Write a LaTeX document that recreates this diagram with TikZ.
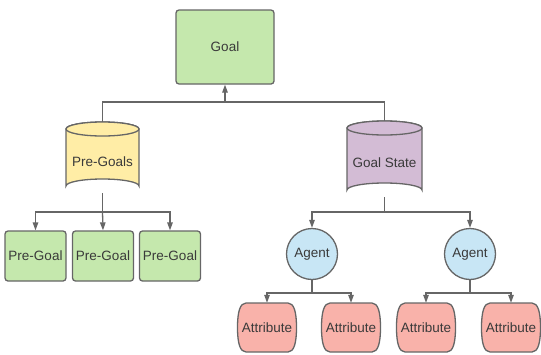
\documentclass[tikz,border=0pt]{standalone}
\usepackage{fontspec}
\setmainfont{Liberation Sans}
\usetikzlibrary{arrows.meta}
\definecolor{edge}{HTML}{666666}
\definecolor{txt}{HTML}{3A3A3A}
\definecolor{gfill}{HTML}{C5E8AD}
\definecolor{yfill}{HTML}{FFEDA6}
\definecolor{pfill}{HTML}{D3BCD5}
\definecolor{bfill}{HTML}{C8E6F5}
\definecolor{rfill}{HTML}{F9B2AA}
\tikzset{
  box/.style={draw=edge, line width=1.3pt, rounded corners=3pt, text=txt, inner sep=0pt},
  holder/.style={inner sep=0pt, text=txt},
  conn/.style={draw=edge, line width=1.3pt},
  arr/.style={conn, -{Triangle[width=5.5pt,length=8pt]}},
  shapeline/.style={draw=edge, line width=1.3pt},
}
\newcommand{\cyl}[6]{% name, cx, top, bottom, halfwidth, fill
  \path[shapeline, fill=#6] (#2-#5,#3+7) -- (#2-#5,#4-7) arc[start angle=180,end angle=360,x radius=#5,y radius=7] -- (#2+#5,#3+7) arc[start angle=0,end angle=-180,x radius=#5,y radius=7] -- cycle;
  \path[shapeline, fill=#6] (#2,#3+7) ellipse[x radius=#5, y radius=7];
}
\newcommand{\attr}[2]{% name, cx
  \path[shapeline, fill=rfill] (#2-21,303) -- (#2+21,303) .. controls (#2+27,303) and (#2+29.5,312) .. (#2+29.5,327.5) .. controls (#2+29.5,343) and (#2+27,352) .. (#2+21,352) -- (#2-21,352) .. controls (#2-27,352) and (#2-29.5,343) .. (#2-29.5,327.5) .. controls (#2-29.5,312) and (#2-27,303) .. (#2-21,303) -- cycle;
  \node[holder, minimum width=59pt, minimum height=49pt] (#1) at (#2,327.5) {Attribute};
}
\begin{document}
\begin{tikzpicture}[x=1pt,y=-1pt, font=\fontsize{13.5}{16}\selectfont]
\useasboundingbox (0,0) rectangle (541,354);
% Goal
\node[box, fill=gfill, minimum width=98pt, minimum height=74pt] (goal) at (225,47) {Goal};
% Cylinders
\cyl{pg}{102.5}{122}{193}{36.5}{yfill}
\node[holder, minimum width=73pt, minimum height=71pt] (pg) at (102.5,157.5) {};
\node[holder] at (102.5,162) {Pre-Goals};
\cyl{gs}{384.5}{121}{197}{37.5}{pfill}
\node[holder, minimum width=75pt, minimum height=76pt] (gs) at (384.5,159) {};
\node[holder] at (384.5,163) {Goal State};
% Pre-Goal boxes
\node[box, fill=gfill, minimum width=61pt, minimum height=50pt] (p1) at (35.5,256) {Pre-Goal};
\node[box, fill=gfill, minimum width=61pt, minimum height=50pt] (p2) at (103,256) {Pre-Goal};
\node[box, fill=gfill, minimum width=61pt, minimum height=50pt] (p3) at (170,256) {Pre-Goal};
% Agents
\node[circle, draw=edge, line width=1.3pt, fill=bfill, text=txt, minimum size=51pt, inner sep=0pt] (a1) at (312,254) {Agent};
\node[circle, draw=edge, line width=1.3pt, fill=bfill, text=txt, minimum size=51pt, inner sep=0pt] (a2) at (470,254) {Agent};
% Attributes
\attr{t1}{267}
\attr{t2}{351}
\attr{t3}{426}
\attr{t4}{511}
% junction coordinates
\coordinate (j0) at (225,102);
\coordinate (j1) at (102.5,212);
\coordinate (j2) at (384.5,212);
\coordinate (j3) at (312,293);
\coordinate (j4) at (470,293);
% connectors
\draw[conn] (pg.north) -- (pg.north |- j0) -- (gs.north |- j0) -- (gs.north);
\draw[arr] (j0) -- (goal.south);
\draw[conn] (pg.south) -- (j1);
\draw[arr] (j1) -- (p1.north |- j1) -- (p1.north);
\draw[arr] (j1) -- (p2.north);
\draw[arr] (j1) -- (p3.north |- j1) -- (p3.north);
\draw[conn] (gs.south) -- (j2);
\draw[arr] (j2) -- (a1.north |- j2) -- (a1.north);
\draw[arr] (j2) -- (a2.north |- j2) -- (a2.north);
\draw[conn] (a1.south) -- (j3);
\draw[arr] (j3) -- (t1.north |- j3) -- (t1.north);
\draw[arr] (j3) -- (t2.north |- j3) -- (t2.north);
\draw[conn] (a2.south) -- (j4);
\draw[arr] (j4) -- (t3.north |- j4) -- (t3.north);
\draw[arr] (j4) -- (t4.north |- j4) -- (t4.north);
\end{tikzpicture}
\end{document}
